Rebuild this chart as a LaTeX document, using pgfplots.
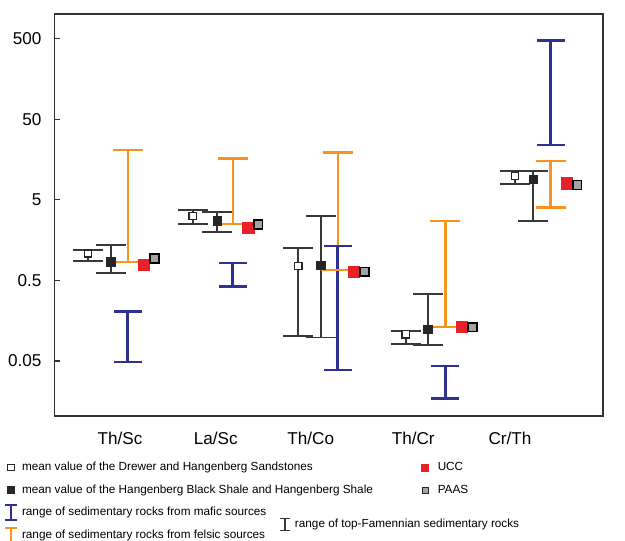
\documentclass[border=0pt]{standalone}
\usepackage{fontspec}
\setmainfont{Liberation Sans}
\usepackage{pgfplots}
\pgfplotsset{compat=1.18}
\definecolor{rngblack}{HTML}{383838}
\definecolor{mafic}{HTML}{2E3192}
\definecolor{felsic}{HTML}{F7941D}
\definecolor{ucc}{HTML}{E8202A}
\definecolor{paas}{HTML}{A3A3A3}

\begin{document}
\begin{tikzpicture}
\begin{axis}[
  at={(0,0)}, anchor=south west,
  scale only axis, width=274.25bp, height=201bp,
  xmin=0.328, xmax=5.954,
  ymode=log, ymin=0.0104, ymax=1007,
  axis line style={draw=black!80, line width=0.9bp},
  xtick={1,1.982,2.956,4.008,5},
  xticklabels={Th/Sc,La/Sc,Th/Co,Th/Cr,Cr/Th},
  ytick={0.05,0.5,5,50,500},
  yticklabels={0.05,0.5,5,50,500},
  yminorticks=false,
  ytick pos=left, tick align=inside,
  major tick length=3bp,
  xtick style={draw=none},
  ytick style={black!80, line width=0.6bp},
  /pgf/number format/assume math mode=true,
  tick label style={font=\fontsize{8.6}{10}\selectfont},
  yticklabel style={xshift=-3bp},
  xticklabel style={yshift=-4.5bp},
  unbounded coords=jump,
  clip=false,
]
% top-Famennian ranges around the sandstone means
\addplot[rngblack, line width=0.9bp, mark=-, mark size=7.5bp, mark options={solid, line width=0.9bp}] coordinates {
  (0.672,0.875) (0.672,1.19) (0.672,nan)
  (1.746,2.48) (1.746,3.73) (1.746,nan)
  (2.829,0.102) (2.829,1.25) (2.829,nan)
  (3.930,0.081) (3.930,0.119) (3.930,nan)
  (5.051,7.76) (5.051,11.4)
};
% top-Famennian ranges around the shale means
\addplot[rngblack, line width=0.9bp, mark=-, mark size=7.5bp, mark options={solid, line width=0.9bp}] coordinates {
  (0.905,0.616) (0.905,1.37) (0.905,nan)
  (1.998,1.99) (1.998,3.55) (1.998,nan)
  (3.059,0.098) (3.059,3.14) (3.059,nan)
  (4.156,0.0794) (4.156,0.338) (4.156,nan)
  (5.239,2.72) (5.239,11.5)
};
% felsic sources
\addplot[felsic, line width=1.2bp, no marks] coordinates {
  (0.905,0.851) (1.243,0.851) (1.243,nan)
  (1.998,2.52) (2.316,2.52) (2.316,nan)
  (3.059,0.671) (3.403,0.671) (3.403,nan)
  (4.156,0.133) (4.508,0.133)
};
\addplot[felsic, line width=1.2bp, mark=-, mark size=7.5bp, mark options={solid, line width=1.2bp}] coordinates {
  (1.079,0.851) (1.079,20.7) (1.079,nan)
  (2.156,2.52) (2.156,16.3) (2.156,nan)
  (3.233,0.671) (3.233,19.4) (3.233,nan)
  (4.337,0.133) (4.337,2.72) (4.337,nan)
  (5.417,4.03) (5.417,15.1)
};
% mafic sources
\addplot[mafic, line width=1.3bp, mark=-, mark size=7bp, mark options={solid, line width=1.3bp}] coordinates {
  (1.079,0.0484) (1.079,0.204) (1.079,nan)
  (2.156,0.417) (2.156,0.826) (2.156,nan)
  (3.233,0.0386) (3.233,1.33) (3.233,nan)
  (4.337,0.0172) (4.337,0.0436) (4.337,nan)
  (5.417,23.9) (5.417,470)
};
% means
\addplot[only marks, mark=square*, mark size=1.8bp, mark options={draw=black!85, fill=white, line width=0.7bp}] coordinates {
  (0.672,1.08) (1.746,3.14) (2.829,0.752) (3.930,0.107) (5.051,9.84)
};
\addplot[only marks, mark=square*, mark size=2.1bp, mark options={draw=black!85, fill=black!85}] coordinates {
  (0.905,0.851) (1.998,2.72) (3.059,0.774) (4.156,0.124) (5.239,8.95)
};
% UCC and PAAS
\addplot[only marks, mark=square*, mark size=2.8bp, mark options={draw=ucc, fill=ucc, rounded corners=0.6bp}] coordinates {
  (1.243,0.774) (2.316,2.25) (3.403,0.640) (4.508,0.131) (5.587,7.98)
};
\addplot[only marks, mark=square*, mark size=2.2bp, mark options={draw=black, fill=paas, line width=0.8bp}] coordinates {
  (1.352,0.938) (2.418,2.48) (3.506,0.640) (4.617,0.131) (5.690,7.61)
};
\end{axis}

% legend: means and source ranges
\begin{axis}[
  at={(0,0)}, anchor=south west,
  scale only axis, width=274.25bp, height=201bp,
  xmin=0, xmax=1, ymin=0, ymax=1, hide axis,
  legend cell align=left,
  legend style={draw=none, fill=none, inner sep=0pt, outer sep=0pt,
    row sep=5.55bp, column sep=2.5bp,
    font=\fontsize{5.9}{7}\selectfont,
    cells={anchor=west},
    nodes={inner sep=0pt, text height=4.4bp, text depth=1.3bp},
    at={(-0.0902,-0.114)}, anchor=north west}]
\addlegendimage{legend image code/.code={
  \path[draw=none, fill=none] (0bp,-2bp) rectangle (6bp,2bp);
  \draw[black!85, line width=0.5bp, fill=white] (1.3bp,-1.6bp) rectangle (4.5bp,1.6bp);}}
\addlegendimage{legend image code/.code={
  \path[draw=none, fill=none] (0bp,-2bp) rectangle (6bp,2bp);
  \fill[black!85] (1.3bp,-1.6bp) rectangle (4.5bp,1.6bp);}}
\addlegendimage{legend image code/.code={
  \path[draw=none, fill=none] (0bp,-2bp) rectangle (6bp,2bp);
  \draw[overlay, mafic, line width=0.9bp] (0bp,3.7bp) -- (6bp,3.7bp) (3bp,3.7bp) -- (3bp,-3.7bp) (0bp,-3.7bp) -- (6bp,-3.7bp);}}
\addlegendimage{legend image code/.code={
  \path[draw=none, fill=none] (0bp,-2bp) rectangle (6bp,2bp);
  \draw[overlay, felsic, line width=0.9bp] (0bp,3.7bp) -- (6bp,3.7bp) (3bp,3.7bp) -- (3bp,-3.7bp);}}
\legend{mean value of the Drewer and Hangenberg Sandstones,
  mean value of the Hangenberg Black Shale and Hangenberg Shale,
  range of sedimentary rocks from mafic sources,
  range of sedimentary rocks from felsic sources}
\end{axis}

% legend: UCC, PAAS
\begin{axis}[
  at={(0,0)}, anchor=south west,
  scale only axis, width=274.25bp, height=201bp,
  xmin=0, xmax=1, ymin=0, ymax=1, hide axis,
  legend cell align=left,
  legend style={draw=none, fill=none, inner sep=0pt, outer sep=0pt,
    row sep=5.55bp, column sep=4.25bp,
    font=\fontsize{5.9}{7}\selectfont,
    cells={anchor=west},
    nodes={inner sep=0pt, text height=4.4bp, text depth=1.3bp},
    at={(0.669,-0.114)}, anchor=north west}]
\addlegendimage{legend image code/.code={
  \path[draw=none, fill=none] (0bp,-2bp) rectangle (3.5bp,2bp);
  \fill[ucc] (0bp,-1.75bp) rectangle (3.5bp,1.75bp);}}
\addlegendimage{legend image code/.code={
  \path[draw=none, fill=none] (0bp,-2bp) rectangle (3.5bp,2bp);
  \draw[black!85, line width=0.5bp, fill=paas] (0.3bp,-1.5bp) rectangle (3.2bp,1.5bp);}}
\legend{UCC, PAAS}
\end{axis}

% legend: top-Famennian range
\begin{axis}[
  at={(0,0)}, anchor=south west,
  scale only axis, width=274.25bp, height=201bp,
  xmin=0, xmax=1, ymin=0, ymax=1, hide axis,
  legend cell align=left,
  legend style={draw=none, fill=none, inner sep=0pt, outer sep=0pt,
    column sep=2.5bp,
    font=\fontsize{5.9}{7}\selectfont,
    cells={anchor=west},
    nodes={inner sep=0pt, text height=4.4bp, text depth=1.3bp},
    at={(0.4111,-0.2563)}, anchor=north west}]
\addlegendimage{legend image code/.code={
  \path[draw=none, fill=none] (0bp,-2bp) rectangle (5bp,2bp);
  \draw[overlay, rngblack, line width=0.6bp] (0bp,3bp) -- (5bp,3bp) (2.5bp,3bp) -- (2.5bp,-3bp) (0bp,-3bp) -- (5bp,-3bp);}}
\legend{range of top-Famennian sedimentary rocks}
\end{axis}

\pgfresetboundingbox
\useasboundingbox (-27.25bp,-62.5bp) rectangle (285.25bp,208bp);
\end{tikzpicture}
\end{document}
